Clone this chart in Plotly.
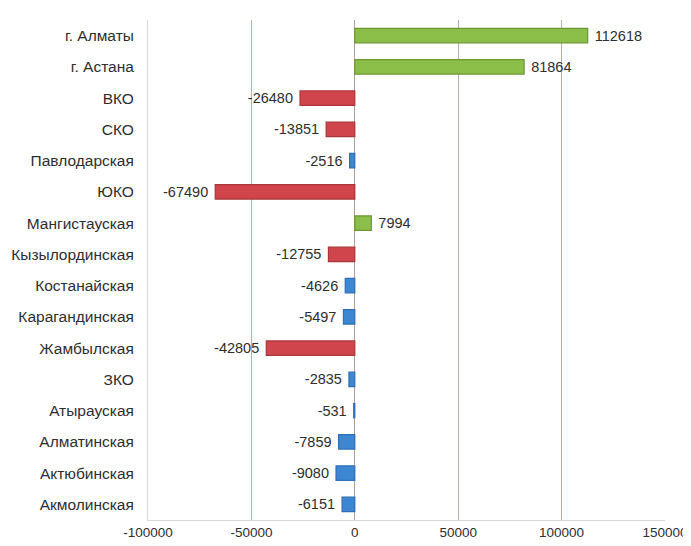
import plotly.graph_objects as go

categories = ["г. Алматы", "г. Астана", "ВКО", "СКО", "Павлодарская", "ЮКО",
              "Мангистауская", "Кызылординская", "Костанайская", "Карагандинская",
              "Жамбылская", "ЗКО", "Атырауская", "Алматинская", "Актюбинская", "Акмолинская"]
values = [112618, 81864, -26480, -13851, -2516, -67490, 7994, -12755, -4626, -5497,
          -42805, -2835, -531, -7859, -9080, -6151]
tick_values = [-100000, -50000, 0, 50000, 100000, 150000]
tick_labels = ["-100000", "-50000", "0", "50000", "100000", "150000"]

def fill(v):
    if v > 0:
        return "#8cbf4a"
    if v < -10000:
        return "#d0454b"
    return "#3d86d2"

def edge(v):
    if v > 0:
        return "#6b9630"
    if v < -10000:
        return "#a8363b"
    return "#2f6fb5"

FONT = "Liberation Sans, Arial, sans-serif"

fig = go.Figure(go.Bar(
    y=categories, x=values, orientation="h",
    marker=dict(color=[fill(v) for v in values],
                line=dict(color=[edge(v) for v in values], width=1.2)),
    width=0.46,
    text=[str(v) for v in values],
    texttemplate=[(" %{text}" if v > 0 else "%{text} ") for v in values],
    textposition="outside", constraintext="none",
    textfont=dict(family=FONT, size=14.5, color="#2e2e2e"),
    cliponaxis=False,
))

# the page body has an 8px margin, so the figure is sized/positioned to compensate
fig.update_layout(
    width=683, height=538,
    margin=dict(l=140, r=26, t=12, b=26),
    paper_bgcolor="white", plot_bgcolor="white",
    showlegend=False,
    font=dict(family=FONT, size=13, color="#2e2e2e"),
    xaxis=dict(range=[-100000, 150000], tickvals=tick_values, ticktext=tick_labels,
               showgrid=True, gridcolor="#c7a9a6", gridwidth=1,
               zeroline=True, zerolinecolor="#b89a97", zerolinewidth=1,
               showline=True, linecolor="#d8d8d8", ticks="", automargin=False,
               tickfont=dict(family=FONT, size=13.5, color="#2e2e2e")),
    yaxis=dict(autorange="reversed", showgrid=False, zeroline=False,
               showline=True, linecolor="#d8d8d8", ticks="", ticklabelstandoff=10,
               automargin=False,
               tickfont=dict(family=FONT, size=15.5, color="#2e2e2e")),
)

fig.write_html("out.html")
